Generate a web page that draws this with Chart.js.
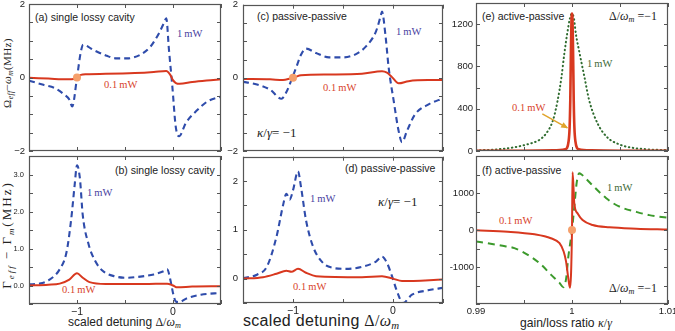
<!DOCTYPE html>
<html>
<head>
<meta charset="utf-8">
<script src="https://cdn.jsdelivr.net/npm/chart.js@4.4.0/dist/chart.umd.min.js"></script>
<style>
  body { margin: 0; background: #fff; width: 675px; height: 331px; position: relative; overflow: hidden; }
  canvas { position: absolute; }
  .t { position: absolute; white-space: nowrap; line-height: 1; color: #222; font-family: "Liberation Sans", Arial, sans-serif; }
  .s { font-family: "Liberation Serif", "DejaVu Serif", serif; }
  .mw { color: #4a3f9f; }
  .red { color: #d8442c; }
  .grn { color: #3e6a38; }
  .sub { font-size: 68%; vertical-align: -0.3em; font-style: italic; }
  .rot { transform: translate(-50%, -50%) rotate(-90deg); }
</style>
</head>
<body>

<!-- panel captions -->
<div class="t" style="left:35px;top:12px;font-size:10.5px">(a) single lossy cavity</div>
<div class="t" style="left:115px;top:165px;font-size:10.5px">(b) single lossy cavity</div>
<div class="t" style="left:257px;top:10.5px;font-size:10.5px">(c) passive-passive</div>
<div class="t" style="left:345px;top:163px;font-size:10.5px">(d) passive-passive</div>
<div class="t" style="left:482px;top:11px;font-size:10.5px">(e) active-passive</div>
<div class="t" style="left:482px;top:164.5px;font-size:10.5px">(f) active-passive</div>

<!-- curve labels -->
<div class="t s mw" style="left:177px;top:29px;font-size:10.5px">1&#8201;mW</div>
<div class="t s red" style="left:104px;top:80px;font-size:10.5px">0.1&#8201;mW</div>
<div class="t s mw" style="left:87px;top:188px;font-size:10.5px">1&#8201;mW</div>
<div class="t s red" style="left:62px;top:285px;font-size:10.5px">0.1&#8201;mW</div>
<div class="t s mw" style="left:396px;top:27px;font-size:10.5px">1&#8201;mW</div>
<div class="t s red" style="left:323px;top:83px;font-size:10.5px">0.1&#8201;mW</div>
<div class="t s mw" style="left:310px;top:194px;font-size:10.5px">1&#8201;mW</div>
<div class="t s red" style="left:293px;top:282px;font-size:10.5px">0.1&#8201;mW</div>
<div class="t s grn" style="left:587px;top:59px;font-size:10.5px">1&#8201;mW</div>
<div class="t s red" style="left:512px;top:103px;font-size:10.5px">0.1&#8201;mW</div>
<div class="t s grn" style="left:607px;top:183px;font-size:10.5px">1&#8201;mW</div>
<div class="t s red" style="left:499px;top:215.5px;font-size:10.5px">0.1&#8201;mW</div>

<!-- parameter notes -->
<div class="t s" style="left:257px;top:126px;font-size:13px"><i>κ</i>/<i>γ</i>= −1</div>
<div class="t s" style="left:378px;top:195px;font-size:13px"><i>κ</i>/<i>γ</i>= −1</div>
<div class="t s" style="left:609px;top:10px;font-size:12px">Δ/<i>ω</i><span class="sub">m</span> =−1</div>
<div class="t s" style="left:609px;top:281.5px;font-size:12px">Δ/<i>ω</i><span class="sub">m</span> =−1</div>

<!-- axis titles -->
<div class="t" style="left:68px;top:316px;font-size:12px">scaled detuning <span class="s">Δ/<i>ω</i><span class="sub">m</span></span></div>
<div class="t" style="left:243px;top:312.5px;font-size:16px;letter-spacing:0.3px">scaled detuning <span class="s">Δ/<i>ω</i><span class="sub">m</span></span></div>
<div class="t" style="left:520px;top:315.5px;font-size:13px;transform:scaleX(0.93);transform-origin:left">gain/loss ratio <span class="s"><i>κ</i>/<i>γ</i></span></div>
<div class="t s rot" style="left:8px;top:73px;font-size:11px;letter-spacing:0.4px">Ω<span class="sub">eff</span>−<i>ω</i><span class="sub">m</span>(MHz)</div>
<div class="t s rot" style="left:8px;top:235px;font-size:13px;letter-spacing:2px">Γ<span class="sub">eff</span> − Γ<span class="sub">m</span>(MHz)</div>

<script>
// (a) single lossy cavity: frequency shift vs scaled detuning
var detuneA1 = [-1.5, -1.47, -1.35, -1.23, -1.13, -1.08, -1.05, -1.0, -0.96, -0.935, -0.83, -0.69, -0.586, -0.48, -0.34, -0.235, -0.147, -0.095, -0.07, -0.042, -0.007, 0.028, 0.063, 0.133, 0.256, 0.36, 0.5];
var shiftA1 = [-0.09, -0.11, -0.2, -0.29, -0.47, -0.6, -0.79, 0.0, 0.7, 0.89, 0.75, 0.59, 0.52, 0.52, 0.62, 0.84, 1.2, 1.48, 1.61, 0.75, -0.24, -1.33, -1.6, -1.24, -0.88, -0.65, -0.52];
var detuneA01 = [-1.5, -1.3, -1.1, -1.03, -1.0, -0.96, -0.9, -0.7, -0.4, -0.2, -0.07, -0.03, 0.0, 0.03, 0.07, 0.2, 0.35, 0.5];
var shiftA01 = [-0.01, -0.03, -0.05, -0.04, 0.0, 0.07, 0.09, 0.1, 0.12, 0.15, 0.18, 0.08, -0.07, -0.15, -0.17, -0.12, -0.08, -0.05];

// (b) single lossy cavity: damping change
var detuneB1 = [-1.5, -1.39, -1.29, -1.18, -1.11, -1.06, -1.025, -1.0, -0.97, -0.94, -0.88, -0.81, -0.73, -0.61, -0.48, -0.34, -0.2, -0.095, -0.06, -0.025, 0.0, 0.028, 0.06, 0.15, 0.29, 0.5];
var dampB1 = [0.03, 0.05, 0.15, 0.44, 0.89, 1.8, 2.7, 3.25, 2.9, 1.9, 1.12, 0.66, 0.39, 0.25, 0.21, 0.24, 0.3, 0.39, 0.44, 0.12, -0.2, -0.43, -0.45, -0.34, -0.25, -0.2];
var detuneB01 = [-1.5, -1.3, -1.18, -1.08, -1.0, -0.94, -0.87, -0.7, -0.3, -0.06, 0.0, 0.045, 0.2, 0.5];
var dampB01 = [0.0, 0.02, 0.05, 0.16, 0.33, 0.21, 0.09, 0.04, 0.04, 0.05, 0.0, -0.05, -0.03, -0.02];

// (c) passive-passive: frequency shift
var detuneC1 = [-1.5, -1.36, -1.23, -1.115, -1.07, -1.02, -0.97, -0.92, -0.87, -0.77, -0.64, -0.5, -0.37, -0.27, -0.17, -0.12, -0.11, -0.076, -0.043, 0.007, 0.056, 0.09, 0.14, 0.22, 0.36, 0.5];
var shiftC1 = [-0.11, -0.18, -0.32, -0.57, -0.41, -0.09, 0.27, 0.63, 0.8, 0.68, 0.56, 0.56, 0.65, 0.86, 1.27, 1.72, 1.81, 1.18, 0.27, -0.63, -1.45, -1.76, -1.45, -1.0, -0.72, -0.56];
var detuneC01 = [-1.5, -1.23, -1.1, -1.03, -0.98, -0.92, -0.64, -0.31, -0.11, -0.06, -0.01, 0.056, 0.155, 0.35, 0.5];
var shiftC01 = [-0.03, -0.04, -0.06, -0.02, 0.02, 0.07, 0.09, 0.11, 0.18, 0.14, 0.02, -0.15, -0.09, -0.06, -0.06];

// (d) passive-passive: damping change
var detuneD1 = [-1.5, -1.36, -1.26, -1.165, -1.1, -1.066, -1.033, -1.0, -0.95, -0.92, -0.87, -0.8, -0.7, -0.6, -0.47, -0.31, -0.17, -0.11, -0.06, -0.01, 0.04, 0.1, 0.19, 0.35, 0.5];
var dampD1 = [0.01, 0.08, 0.25, 0.86, 1.5, 1.74, 1.62, 1.81, 2.2, 1.88, 1.2, 0.66, 0.32, 0.22, 0.2, 0.24, 0.35, 0.45, 0.32, 0.05, -0.26, -0.5, -0.33, -0.24, -0.19];
var detuneD01 = [-1.5, -1.3, -1.165, -1.066, -1.016, -0.95, -0.87, -0.77, -0.31, -0.11, 0.0, 0.09, 0.5];
var dampD01 = [0.0, 0.03, 0.1, 0.16, 0.14, 0.2, 0.12, 0.05, 0.03, 0.05, 0.0, -0.05, -0.02];

// (e) active-passive: frequency shift vs gain/loss ratio
var ratioE1 = [0.990, 0.992, 0.994, 0.995, 0.996, 0.9966, 0.9973, 0.998, 0.9985, 0.9989, 0.9992, 0.9995, 0.9998, 1.0, 1.0002, 1.0004, 1.0008, 1.0013, 1.0018, 1.0027, 1.0037, 1.0049, 1.006, 1.008, 1.01];
var shiftE1 = [6, 14, 35, 55, 80, 105, 165, 286, 476, 698, 921, 1111, 1260, 1300, 1255, 1111, 921, 698, 476, 254, 127, 63, 35, 15, 8];
var ratioE01 = [0.990, 0.995, 0.998, 0.9993, 0.99965, 0.99975, 0.99982, 0.99989, 0.99996, 1.0, 1.00004, 1.00011, 1.00018, 1.00025, 1.00035, 1.0007, 1.002, 1.005, 1.01];
var shiftE01 = [1, 2, 6, 16, 95, 222, 476, 952, 1270, 1300, 1270, 952, 476, 222, 95, 16, 6, 2, 1];

// (f) active-passive: damping change
var ratioF1 = [0.990, 0.9912, 0.9926, 0.994, 0.9954, 0.9968, 0.9978, 0.9987, 0.9991, 0.9994, 0.9996, 1.0, 1.0003, 1.0005, 1.00076, 1.001, 1.00146, 1.00215, 1.00284, 1.00354, 1.00423, 1.00527, 1.00667, 1.00805, 1.01];
var dampF1 = [-313, -357, -420, -491, -670, -938, -1206, -1430, -1546, -1296, -760, 0, 800, 1300, 1536, 1500, 1386, 1206, 1027, 866, 732, 598, 491, 402, 330];
var ratioF01 = [0.990, 0.9933, 0.9961, 0.9978, 0.9987, 0.99913, 0.99938, 0.99961, 0.99979, 1.0, 1.00006, 1.00024, 1.00059, 1.0011, 1.00215, 1.0039, 1.0067, 1.01];
var dampF01 = [-10, -45, -116, -223, -357, -581, -849, -1296, -1564, 0, 1563, 715, 447, 268, 134, 72, 36, 15];

// highlighted points and the arrow in (e)
var markerDetune = [-1];
var markerRatio = [1];
var markerValue = [0];
var arrowRatio = [0.99691, 0.99951];
var arrowShift = [352, 219];

// tick labels
var detuneTicks = [-1, 0];
var detuneTickText = ['\u22121', '0'];
var shiftTicks = [-2, 0, 2];
var shiftTickText = ['\u22122', '0', '2'];
var dampBTicks = [0, 1, 2, 3];
var dampBTickText = ['0.0', '1.0', '2.0', '3.0'];
var dampDTicks = [0, 1, 2];
var dampDTickText = ['0', '1', '2'];
var ratioTicks = [0.99, 1, 1.01];
var ratioTickText = ['0.99', '1', '1.01'];
var shiftETicks = [0, 400, 800, 1200];
var shiftETickText = ['0', '400', '800', '1200'];
var dampFTicks = [-1000, 0, 1000];
var dampFTickText = ['-1000', '0', '1000'];

var ML = 42, MT = 10, MR = 16, MB = 24;

var BLUE = { borderColor: '#2f4cab', borderWidth: 2.1, borderDash: [6, 4] };
var RED = { borderColor: '#d8381f', borderWidth: 2 };
var RED_THICK = { borderColor: '#d8381f', borderWidth: 2.6 };
var GREEN_DOT = { borderColor: '#2e6b2e', borderWidth: 2, borderDash: [0.5, 3.5], borderCapStyle: 'round' };
var GREEN_DASH = { borderColor: '#3c9a2c', borderWidth: 2, borderDash: [7, 5] };

function series(xs, ys) {
    return xs.map(function (x, i) { return { x: x, y: ys[i] }; });
}

function lineSet(xs, ys, style) {
    return Object.assign({
        data: series(xs, ys),
        pointRadius: 0,
        fill: false,
        cubicInterpolationMode: 'monotone'
    }, style);
}

function markerSet(xs, ys) {
    return {
        data: series(xs, ys),
        showLine: false,
        pointRadius: 4,
        pointBackgroundColor: '#f5a06c',
        pointBorderWidth: 0
    };
}

function labelFor(ticks, texts) {
    return function (v) {
        for (var i = 0; i < ticks.length; i++) {
            if (Math.abs(v - ticks[i]) < 1e-7 * Math.max(1, Math.abs(v))) {
                return texts[i];
            }
        }
        return '';
    };
}

/**
 * Frame round the plot area with short inward ticks on all four sides.
 */
var framePlugin = {
    id: 'frame',
    afterDraw: function (chart) {
        var ctx = chart.ctx;
        var a = chart.chartArea;
        var xs = chart.scales.x, ys = chart.scales.y;
        ctx.save();
        ctx.strokeStyle = '#555';
        ctx.lineWidth = 1;
        ctx.beginPath();
        xs.ticks.forEach(function (t) {
            var px = Math.round(xs.getPixelForValue(t.value)) + 0.5;
            ctx.moveTo(px, a.bottom); ctx.lineTo(px, a.bottom - 4);
            ctx.moveTo(px, a.top); ctx.lineTo(px, a.top + 4);
        });
        ys.ticks.forEach(function (t) {
            var py = Math.round(ys.getPixelForValue(t.value)) + 0.5;
            ctx.moveTo(a.left, py); ctx.lineTo(a.left + 4, py);
            ctx.moveTo(a.right, py); ctx.lineTo(a.right - 4, py);
        });
        ctx.stroke();
        ctx.lineWidth = 1.2;
        ctx.strokeRect(Math.round(a.left) + 0.5, Math.round(a.top) + 0.5,
            Math.round(a.right - a.left) - 1, Math.round(a.bottom - a.top) - 1);
        ctx.restore();
    }
};

/**
 * Arrow head at the end of datasets flagged with arrow: true.
 */
var arrowPlugin = {
    id: 'arrowHead',
    afterDatasetsDraw: function (chart) {
        var ctx = chart.ctx;
        chart.data.datasets.forEach(function (ds, i) {
            if (!ds.arrow) {
                return;
            }
            var pts = chart.getDatasetMeta(i).data;
            var p0 = pts[0], p1 = pts[pts.length - 1];
            var ang = Math.atan2(p1.y - p0.y, p1.x - p0.x);
            ctx.save();
            ctx.fillStyle = ds.borderColor;
            ctx.translate(p1.x, p1.y);
            ctx.rotate(ang);
            ctx.beginPath();
            ctx.moveTo(1, 0);
            ctx.lineTo(-6, -3);
            ctx.lineTo(-6, 3);
            ctx.closePath();
            ctx.fill();
            ctx.restore();
        });
    }
};

/**
 * Build one panel; box is the plot area in page pixels.
 */
function makePanel(box, xCfg, yCfg, datasets) {
    var canvas = document.createElement('canvas');
    var w = box.r - box.l + ML + MR;
    var h = box.b - box.t + MT + MB;
    canvas.width = w;
    canvas.height = h;
    canvas.style.left = (box.l - ML) + 'px';
    canvas.style.top = (box.t - MT) + 'px';
    canvas.style.width = w + 'px';
    canvas.style.height = h + 'px';
    document.body.appendChild(canvas);

    function axis(cfg, fit) {
        return {
            type: 'linear',
            min: cfg.min,
            max: cfg.max,
            grid: { display: false, drawTicks: false },
            border: { display: false },
            ticks: {
                stepSize: cfg.step,
                display: !!cfg.labels,
                autoSkip: false,
                maxRotation: 0,
                padding: cfg.pad || 3,
                color: '#222',
                font: { family: '"Liberation Sans", Arial, sans-serif', size: cfg.size || 10 },
                callback: cfg.labels ? labelFor(cfg.labels[0], cfg.labels[1]) : function () { return ''; }
            },
            afterFit: fit
        };
    }

    return new Chart(canvas, {
        type: 'line',
        data: { datasets: datasets },
        options: {
            responsive: false,
            animation: false,
            devicePixelRatio: 1,
            layout: { padding: { top: MT, right: MR, left: 0, bottom: 0 } },
            plugins: { legend: { display: false }, tooltip: { enabled: false } },
            scales: {
                x: axis(xCfg, function (s) { s.height = MB; }),
                y: axis(yCfg, function (s) { s.width = ML; })
            }
        },
        plugins: [framePlugin, arrowPlugin]
    });
}

var detuneAxis = { min: -1.5, max: 0.5, step: 0.5 };
var detuneAxisLab = { min: -1.5, max: 0.5, step: 0.5, labels: [detuneTicks, detuneTickText], size: 10.5, pad: 2 };
var ratioAxis = { min: 0.99, max: 1.01, step: 0.005 };
var ratioAxisLab = { min: 0.99, max: 1.01, step: 0.005, labels: [ratioTicks, ratioTickText], size: 9.5, pad: 2 };

makePanel({ l: 29, t: 4, r: 221, b: 151 }, detuneAxis,
    { min: -2, max: 2, step: 0.5, labels: [shiftTicks, shiftTickText], size: 9.5, pad: 4 },
    [markerSet(markerDetune, markerValue), lineSet(detuneA01, shiftA01, RED), lineSet(detuneA1, shiftA1, BLUE)]);

makePanel({ l: 29, t: 156, r: 221, b: 304 }, detuneAxisLab,
    { min: -0.5, max: 3.5, step: 0.5, labels: [dampBTicks, dampBTickText], size: 7.5, pad: 5 },
    [lineSet(detuneB01, dampB01, RED), lineSet(detuneB1, dampB1, BLUE)]);

makePanel({ l: 243, t: 4, r: 443, b: 151 }, detuneAxis,
    { min: -2, max: 2, step: 0.5, labels: [shiftTicks, shiftTickText], size: 9.5, pad: 5 },
    [markerSet(markerDetune, markerValue), lineSet(detuneC01, shiftC01, RED), lineSet(detuneC1, shiftC1, BLUE)]);

makePanel({ l: 243, t: 156, r: 443, b: 303 }, detuneAxisLab,
    { min: -0.5, max: 2.5, step: 0.5, labels: [dampDTicks, dampDTickText], size: 9.5, pad: 5 },
    [lineSet(detuneD01, dampD01, RED), lineSet(detuneD1, dampD1, BLUE)]);

makePanel({ l: 476, t: 3, r: 668, b: 151 }, ratioAxis,
    { min: 0, max: 1400, step: 200, labels: [shiftETicks, shiftETickText], size: 9.5, pad: 3 },
    [Object.assign(lineSet(arrowRatio, arrowShift, { borderColor: '#e0a42c', borderWidth: 1.5 }), { arrow: true, cubicInterpolationMode: 'default' }),
     lineSet(ratioE01, shiftE01, RED_THICK), lineSet(ratioE1, shiftE1, GREEN_DOT)]);

makePanel({ l: 476, t: 156, r: 668, b: 304 }, ratioAxisLab,
    { min: -2000, max: 2000, step: 500, labels: [dampFTicks, dampFTickText], size: 9.5, pad: 2 },
    [markerSet(markerRatio, markerValue), lineSet(ratioF01, dampF01, RED), lineSet(ratioF1, dampF1, GREEN_DASH)]);
</script>
</body>
</html>
